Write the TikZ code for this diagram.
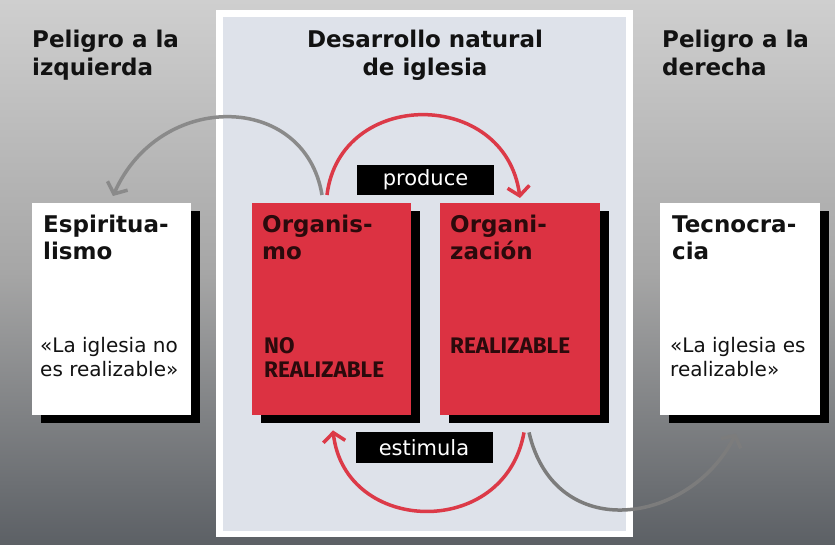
\documentclass[tikz,border=0pt]{standalone}
\usepackage{fontspec}
\setmainfont{DejaVu Sans}
\newfontfamily\capsfont{Fira Sans}
\usetikzlibrary{arrows.meta,shadows,calc}

\definecolor{bgtop}{HTML}{CFCFCF}
\definecolor{bgmid}{HTML}{A6A6A6}
\definecolor{bgbot}{HTML}{5C6065}
\definecolor{panelc}{HTML}{DEE2EA}
\definecolor{boxred}{HTML}{DC3242}
\definecolor{arrred}{HTML}{DC3A48}
\definecolor{arrgrayA}{HTML}{8A8A8A}
\definecolor{arrgrayB}{HTML}{7C7C7C}
\definecolor{darktext}{HTML}{2B0A0C}
\definecolor{titletext}{HTML}{121212}

\begin{document}
\begin{tikzpicture}[x=1pt,y=-1pt,
  card/.style={anchor=north west, minimum width=159pt, minimum height=212pt,
    inner sep=0pt, draw=none,
    drop shadow={shadow xshift=9pt, shadow yshift=-8pt, fill=black, opacity=1}},
  whitecard/.style={card, fill=white},
  redcard/.style={card, fill=boxred},
  headtxt/.style={anchor=north west, inner sep=0pt, align=left,
    font=\bfseries\fontsize{23}{28}\selectfont, text=titletext},
  cardhead/.style={anchor=north west, inner sep=0pt, align=left,
    font=\bfseries\fontsize{23}{27}\selectfont},
  quotetxt/.style={anchor=north west, inner sep=0pt, align=left,
    font=\fontsize{20}{24}\selectfont, text=titletext},
  redtxt/.style={anchor=north west, inner sep=0pt, align=left,
    font=\capsfont\bfseries\fontsize{22.5}{24}\selectfont, text=darktext},
  tag/.style={fill=black, text=white, inner sep=0pt, minimum width=137pt,
    font=\fontsize{21}{24}\selectfont},
  redarrow/.style={draw=arrred, line width=3.5pt,
    -{Straight Barb[length=9pt,width=22pt]}},
  grayarrowA/.style={draw=arrgrayA, line width=3.5pt,
    -{Straight Barb[length=9pt,width=22pt]}},
  grayarrowB/.style={draw=arrgrayB, line width=3.5pt,
    -{Straight Barb[length=9pt,width=22pt]}}
]
\useasboundingbox (0,0) rectangle (835,545);
% background
\shade[top color=bgtop, bottom color=bgbot, middle color=bgmid] (0,0) rectangle (835,545);
% central panel
\fill[white] (216,10) rectangle (633,537);
\fill[panelc] (223,17) rectangle (626,531);

% headings
\node[headtxt] (hl) at (32,29.5) {Peligro a la\\izquierda};
\node[headtxt, anchor=north, align=center] (hc) at (425,29.5) {Desarrollo natural\\de iglesia};
\node[headtxt] (hr) at (662,29.5) {Peligro a la\\derecha};

% cards
\node[whitecard] (esp) at (32,203) {};
\node[redcard] (orgm) at (252,203) {};
\node[redcard, minimum width=160pt] (orgz) at (440,203) {};
\node[whitecard, minimum width=160pt] (tec) at (660,203) {};

% card texts
\node[cardhead, text=titletext] (espt) at ($(esp.north west)+(11,11.5)$) {Espiritua-\\lismo};
\node[quotetxt] (espq) at ($(esp.north west)+(8,134)$) {«La iglesia no\\es realizable»};

\node[cardhead, text=darktext] (orgmt) at ($(orgm.north west)+(10,11.5)$) {Organis-\\mo};
\node[redtxt] (orgmq) at ($(orgm.north west)+(12,134.5)$) {NO\\REALIZABLE};

\node[cardhead, text=darktext] (orgzt) at ($(orgz.north west)+(10,11.5)$) {Organi-\\zación};
\node[redtxt] (orgzq) at ($(orgz.north west)+(10,134.5)$) {REALIZABLE};

\node[cardhead, text=titletext] (tect) at ($(tec.north west)+(12,12.5)$) {Tecnocra-\\cia};
\node[quotetxt] (tecq) at ($(tec.north west)+(10,134)$) {«La iglesia es\\realizable»};

% tags
\node[tag, minimum height=30pt] (prod) at (425.5,180) {produce};
\node[tag, minimum height=31pt] (estim) at (424,447.5) {estimula};

% arrow end points
\coordinate (gA1) at ($(orgm.north west)+(70,-8)$);
\coordinate (gA2) at ($(esp.north west)+(81,-7)$);
\coordinate (rA1) at ($(orgm.north west)+(75,-8)$);
\coordinate (rA2) at ($(orgz.north west)+(80,-5)$);
\coordinate (rB1) at ($(orgz.south west)+(84,17)$);
\coordinate (rB2) at ($(orgm.south west)+(81,15)$);
\coordinate (gB1) at ($(orgz.south west)+(89,17)$);
\coordinate (gB2) at ($(tec.south west)+(76,18)$);

% arrows
\draw[grayarrowA] (gA1) .. controls (305,92) and (160,90) .. (gA2);
\draw[redarrow] (rA1) .. controls (340,88) and (505,88) .. (rA2);
\draw[redarrow] (rB1) .. controls (505,540) and (345,535) .. (rB2);
\draw[grayarrowB] (gB1) .. controls (555,545) and (690,525) .. (gB2);
\end{tikzpicture}
\end{document}
